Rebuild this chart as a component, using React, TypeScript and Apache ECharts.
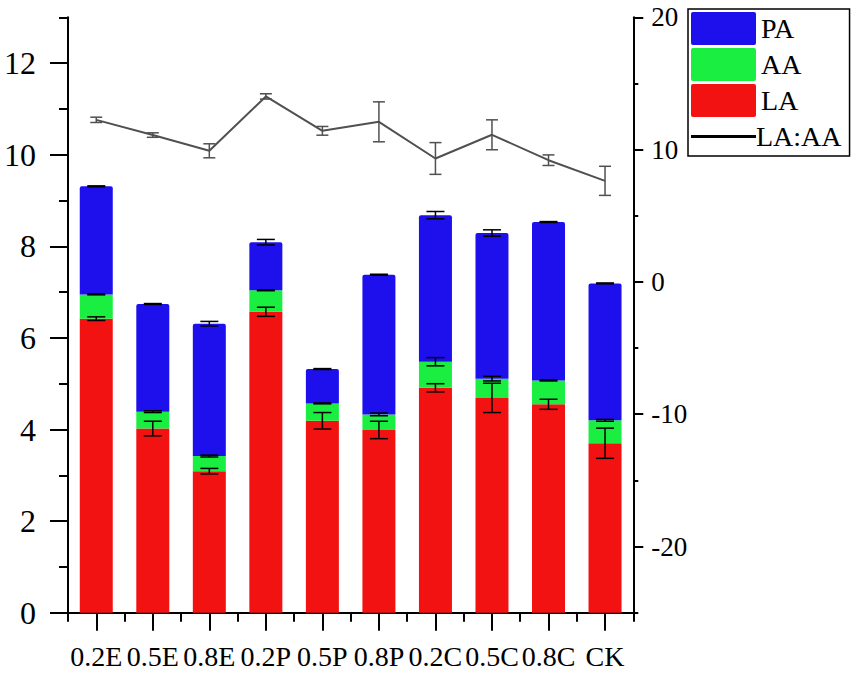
import React, { useEffect, useRef } from "react";
import * as echarts from "echarts";

const categories = ["0.2E", "0.5E", "0.8E", "0.2P", "0.5P", "0.8P", "0.2C", "0.5C", "0.8C", "CK"];
const LA = [6.42, 4.02, 3.09, 6.57, 4.19, 3.99, 4.91, 4.69, 4.55, 3.7];
const AA = [0.53, 0.37, 0.33, 0.47, 0.38, 0.34, 0.57, 0.42, 0.52, 0.5];
const PA = [2.36, 2.35, 2.89, 1.05, 0.75, 3.05, 3.2, 3.18, 3.46, 2.99];
const LAerr = [0.04, 0.16, 0.06, 0.1, 0.18, 0.19, 0.09, 0.32, 0.11, 0.33];
const AAerr = [0.01, 0.02, 0.02, 0.01, 0.01, 0.03, 0.09, 0.05, 0.01, 0.02];
const PAerr = [0.01, 0.01, 0.05, 0.06, 0.01, 0.01, 0.08, 0.07, 0.01, 0.01];
const ratio = [12.25, 11.1, 9.91, 14.02, 11.42, 12.1, 9.33, 11.12, 9.2, 7.64];
const ratioErr = [0.2, 0.17, 0.53, 0.2, 0.33, 1.51, 1.2, 1.13, 0.4, 1.1];

const leftTicks = [0, 2, 4, 6, 8, 10, 12];
const rightTicks = [-20, -10, 0, 10, 20];

const FONT = "'Liberation Serif', 'Times New Roman', serif";
const RECT_ICON = "path://M2,0 H63 Q65,0 65,2 V31 Q65,33 63,33 H2 Q0,33 0,31 V2 Q0,0 2,0 Z";
const LINE_ICON = "path://M0,0 M0,15 H66 V18 H0 Z M66,33";

function errRender(color: string, half: number, width: number) {
  return (params: any, api: any) => {
    const x = api.value(0);
    const lo = api.coord([x, api.value(1)]);
    const hi = api.coord([x, api.value(2)]);
    const style = { stroke: color, lineWidth: width };
    return {
      type: "group",
      children: [
        { type: "line", shape: { x1: lo[0], y1: lo[1], x2: hi[0], y2: hi[1] }, style },
        { type: "line", shape: { x1: lo[0] - half, y1: lo[1], x2: lo[0] + half, y2: lo[1] }, style },
        { type: "line", shape: { x1: hi[0] - half, y1: hi[1], x2: hi[0] + half, y2: hi[1] }, style },
      ],
    };
  };
}

export default function App() {
  const ref = useRef<HTMLDivElement>(null);
  useEffect(() => {
    if (!ref.current) return;
    const chart = echarts.init(ref.current, null, { renderer: "svg" });

    const barErr: number[][] = [];
    categories.forEach((_, i) => {
      const t1 = LA[i];
      const t2 = LA[i] + AA[i];
      const t3 = LA[i] + AA[i] + PA[i];
      barErr.push([i, t1 - LAerr[i], t1 + LAerr[i]]);
      barErr.push([i, t2 - AAerr[i], t2 + AAerr[i]]);
      barErr.push([i, t3 - PAerr[i], t3 + PAerr[i]]);
    });
    const lineErr = ratio.map((v, i) => [i, v - ratioErr[i], v + ratioErr[i]]);

    const axisLine = { show: true, lineStyle: { color: "#000", width: 2 } };
    const tickStyle = { color: "#000", width: 2 };
    const labelStyle = { color: "#000", fontFamily: FONT };

    chart.setOption({
      animation: false,
      textStyle: { fontFamily: FONT },
      grid: { left: 68, right: 217.7, top: 17.3, bottom: 63.3 },
      legend: {
        orient: "vertical",
        left: 688,
        top: 9,
        padding: [3, 8, 3, 3],
        itemGap: 3,
        itemWidth: 65,
        itemHeight: 33,
        borderColor: "#000",
        borderWidth: 1.5,
        borderRadius: 0,
        symbolKeepAspect: false,
        textStyle: { fontSize: 28, fontFamily: FONT, color: "#000" },
        data: [
          { name: "PA", icon: RECT_ICON },
          { name: "AA", icon: RECT_ICON },
          { name: "LA", icon: RECT_ICON },
          {
            name: "LA:AA",
            icon: LINE_ICON,
            itemStyle: { color: "#000" },
            textStyle: { padding: [0, 0, 0, -5] },
          },
        ],
      },
      xAxis: [
        {
          type: "category",
          data: categories,
          axisLine,
          axisTick: { show: true, alignWithLabel: true, length: 18, lineStyle: tickStyle },
          axisLabel: { ...labelStyle, fontSize: 28, margin: 30, interval: 0 },
          splitLine: { show: false },
        },
        {
          type: "category",
          data: categories,
          position: "bottom",
          axisLine: { show: false },
          axisTick: { show: true, length: 9, lineStyle: tickStyle },
          axisLabel: { show: false },
          splitLine: { show: false },
        },
      ],
      yAxis: [
        {
          type: "value",
          min: 0,
          max: 13,
          position: "left",
          axisLine,
          axisTick: { show: true, length: 18, customValues: leftTicks, lineStyle: tickStyle },
          axisLabel: { ...labelStyle, fontSize: 32, margin: 32, customValues: leftTicks },
          splitLine: { show: false },
        },
        {
          type: "value",
          min: 0,
          max: 13,
          interval: 1,
          position: "left",
          axisLine: { show: false },
          axisTick: { show: true, length: 9, lineStyle: tickStyle },
          axisLabel: { show: false },
          splitLine: { show: false },
        },
        {
          type: "value",
          min: -25,
          max: 20,
          position: "right",
          axisLine,
          axisTick: { show: true, length: 10, customValues: rightTicks, lineStyle: tickStyle },
          axisLabel: { ...labelStyle, fontSize: 27, margin: 18, customValues: rightTicks },
          splitLine: { show: false },
        },
        {
          type: "value",
          min: -25,
          max: 20,
          interval: 5,
          position: "right",
          axisLine: { show: false },
          axisTick: { show: true, length: 5, lineStyle: tickStyle },
          axisLabel: { show: false },
          splitLine: { show: false },
        },
      ],
      series: [
        {
          name: "LA",
          type: "bar",
          stack: "a",
          barWidth: 33,
          data: LA,
          itemStyle: { color: "#F21212" },
        },
        {
          name: "AA",
          type: "bar",
          stack: "a",
          barWidth: 33,
          data: AA,
          itemStyle: { color: "#1AEE40" },
        },
        {
          name: "PA",
          type: "bar",
          stack: "a",
          barWidth: 33,
          data: PA,
          itemStyle: { color: "#1D10EC", borderRadius: [2, 2, 0, 0] },
        },
        {
          name: "LA:AA",
          type: "line",
          yAxisIndex: 2,
          data: ratio,
          symbol: "none",
          z: 5,
          lineStyle: { color: "#505050", width: 2 },
          itemStyle: { color: "#505050" },
        },
        {
          name: "barErr",
          type: "custom",
          yAxisIndex: 0,
          z: 10,
          data: barErr,
          encode: { x: 0, y: [1, 2] },
          renderItem: errRender("#000", 9, 1.5),
        },
        {
          name: "lineErr",
          type: "custom",
          yAxisIndex: 2,
          z: 10,
          data: lineErr,
          encode: { x: 0, y: [1, 2] },
          renderItem: errRender("#505050", 6, 1.5),
        },
      ],
    });
    return () => chart.dispose();
  }, []);
  return (
    <div
      ref={ref}
      style={{ position: "absolute", left: 0, top: 0, width: 851, height: 676, background: "#fff" }}
    />
  );
}
